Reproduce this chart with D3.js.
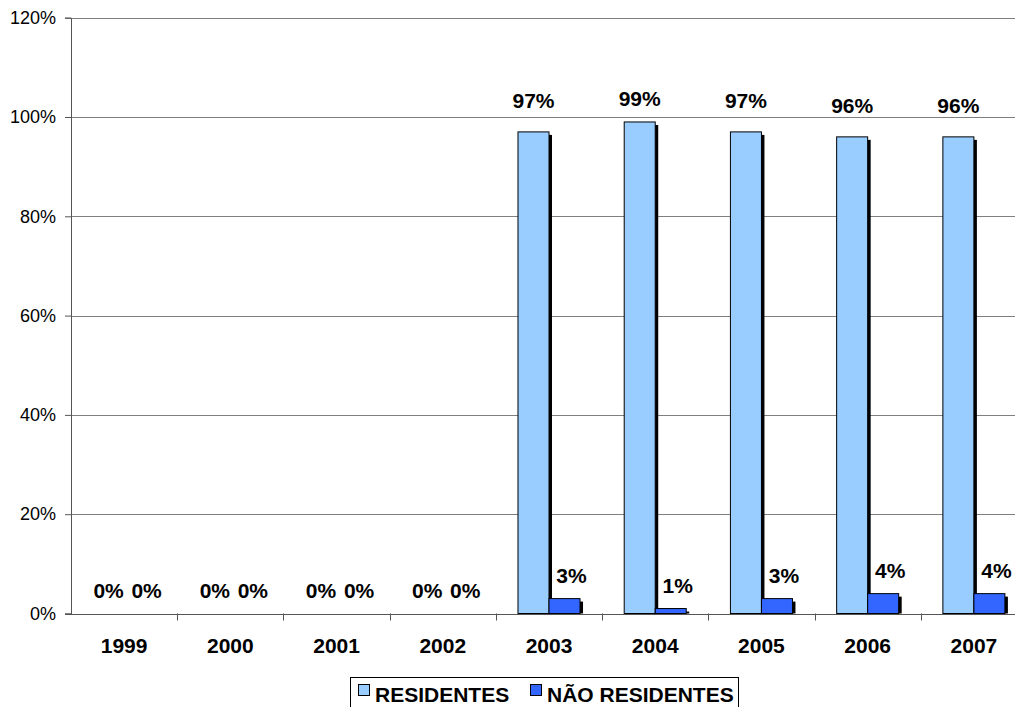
<!DOCTYPE html>
<html><head><meta charset="utf-8">
<script src="https://cdn.jsdelivr.net/npm/d3@7"></script>
<style>body{margin:0;background:#fff}svg{display:block}text{font-family:Arial,"Liberation Sans",sans-serif}</style>
</head><body>
<svg id="c" width="1015" height="707"></svg>
<script>
const years = ["1999","2000","2001","2002","2003","2004","2005","2006","2007"];
const residentes = [0,0,0,0,97,99,97,96,96];
const naoResidentes = [0,0,0,0,3,1,3,4,4];
const seriesNames = ["RESIDENTES","NÃO RESIDENTES"];
const seriesColors = ["#99CCFF","#3366FF"];
const yTicks = [0,20,40,60,80,100,120];

const svg = d3.select("#c");
const x = d3.scaleBand().domain(years).range([71, 1027]).padding(0);
const y = d3.scaleLinear().domain([0,120]).range([613.5, 17.7]);
const groupW = x.bandwidth()*0.584;
const x1 = d3.scaleBand().domain(seriesNames).range([(x.bandwidth()-groupW)/2, (x.bandwidth()+groupW)/2]);

// gridlines
svg.append("g").selectAll("line").data(yTicks.filter(d=>d>0)).join("line")
  .attr("x1",71).attr("x2",1015).attr("y1",d=>Math.round(y(d))+0.5).attr("y2",d=>Math.round(y(d))+0.5)
  .attr("stroke","#7f7f7f").attr("stroke-width",1);

// y axis
const yAxis = d3.axisLeft(y).tickValues(yTicks).tickFormat(d=>d+"%").tickSize(6).tickPadding(9);
const ya = svg.append("g").attr("transform","translate(71,0)").call(yAxis);
ya.select(".domain").attr("stroke","#555");
ya.selectAll(".tick line").attr("stroke","#555");
ya.selectAll(".tick text").attr("font-size","18px").attr("fill","#000").attr("font-family","Arial, 'Liberation Sans', sans-serif");

const data = years.map((yr,i)=>({year:yr, vals:[residentes[i], naoResidentes[i]]}));

const groups = svg.append("g").selectAll("g").data(data).join("g")
  .attr("transform",d=>`translate(${x(d.year)},0)`);

seriesNames.forEach((s,si)=>{
  // shadow
  groups.append("rect")
    .attr("x",d=>x1(s)+3).attr("width",x1.bandwidth())
    .attr("y",d=>y(d.vals[si])+3).attr("height",d=>Math.max(0,y(0)-y(d.vals[si])-3))
    .attr("fill","#000");
  groups.append("rect")
    .attr("x",d=>x1(s)).attr("width",x1.bandwidth())
    .attr("y",d=>y(d.vals[si])).attr("height",d=>y(0)-y(d.vals[si]))
    .attr("fill",seriesColors[si]).attr("stroke","#000").attr("stroke-width",1)
    .attr("display",d=>d.vals[si]>0?null:"none");
  groups.append("text")
    .attr("x",d=>x1(s)+x1.bandwidth()/2+(si===1?7:0))
    .attr("y",d=>y(d.vals[si])-(d.vals[si]>50&&d.vals[si]<98?24:16))
    .attr("text-anchor","middle").attr("font-size","21px").attr("font-weight","bold")
    .text(d=>d.vals[si]+"%");
});

// x axis
const xAxis = d3.axisBottom(x).tickSize(0).tickPadding(0);
const xa = svg.append("g").attr("transform",`translate(0,${y(0)})`).call(xAxis);
xa.select(".domain").remove();
xa.selectAll(".tick text").attr("font-size","21px").attr("font-weight","bold").attr("fill","#000")
  .attr("y",39).attr("dy",0).attr("font-family","Arial, 'Liberation Sans', sans-serif");
svg.append("line").attr("x1",65).attr("x2",1015).attr("y1",Math.round(y(0))+0.5).attr("y2",Math.round(y(0))+0.5).attr("stroke","#555");
svg.append("g").selectAll("line").data(years.slice(1)).join("line")
  .attr("x1",d=>Math.round(x(d))+0.5).attr("x2",d=>Math.round(x(d))+0.5)
  .attr("y1",y(0)).attr("y2",y(0)+7).attr("stroke","#555");

// legend
const lg = svg.append("g");
lg.append("rect").attr("x",350.5).attr("y",677.5).attr("width",388).attr("height",40).attr("fill","#fff").attr("stroke","#000");
const legendX = [358, 530];
seriesNames.forEach((s,i)=>{
  lg.append("rect").attr("x",legendX[i]+0.5).attr("y",684.5).attr("width",11).attr("height",11)
    .attr("fill",seriesColors[i]).attr("stroke","#000");
  lg.append("text").attr("x",legendX[i]+17).attr("y",702).attr("font-size","21px").attr("font-weight","bold").text(s);
});
</script>
</body></html>
